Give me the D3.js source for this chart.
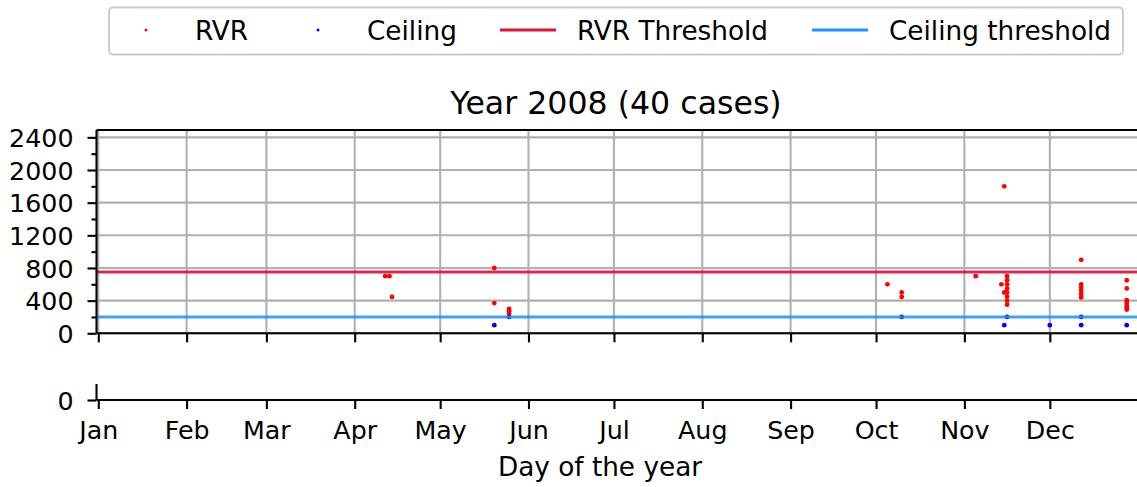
<!DOCTYPE html>
<html>
<head>
<meta charset="utf-8">
<script src="https://cdn.jsdelivr.net/npm/d3@7"></script>
<style>
  body { margin: 0; background: #fff; }
  svg text { font-family: "DejaVu Sans", sans-serif; fill: #000; }
</style>
</head>
<body>
<svg id="chart" width="1137" height="487"></svg>
<script>
// month ticks (day of year, non-leap)
var monthDays = [1, 32, 60, 91, 121, 152, 182, 213, 244, 274, 305, 335];
var monthNames = ["Jan","Feb","Mar","Apr","May","Jun","Jul","Aug","Sep","Oct","Nov","Dec"];
var yTicks = [0, 400, 800, 1200, 1600, 2000, 2400];

// RVR observations (day, metres)
var rvrDay = [101.7, 103.2, 104.1, 140, 140, 145.2, 145.2, 145.2,
  278, 283, 283, 309, 318, 319, 319,
  320, 320, 320, 320, 320, 320, 320, 320,
  346, 346, 346, 346, 346, 346,
  362, 362, 362, 362, 362, 362, 362];
var rvrVal = [700, 700, 445, 800, 370, 300, 270, 240,
  600, 500, 445, 700, 600, 1800, 500,
  700, 650, 600, 550, 500, 450, 400, 350,
  900, 600, 560, 520, 480, 440,
  650, 550, 405, 375, 345, 315, 290];

// ceiling observations (day, feet)
var ceilDay = [140, 145.2, 283, 319, 320, 335, 346, 346, 362];
var ceilVal = [100, 200, 200, 100, 200, 100, 100, 200, 100];

var rvrThreshold = 750;
var ceilThreshold = 200;

var svg = d3.select("#chart");

var x = d3.scaleLinear().domain([0.37, 367]).range([96.5, 1141]);
var y = d3.scaleLinear().domain([0, 2490]).range([333.3, 130]);

var tickFont = "25.3px", labelFont = "26.3px";

// grid
var grid = svg.append("g");
grid.selectAll("line.v").data(monthDays).enter().append("line")
  .attr("x1", function(d) { return x(d); }).attr("x2", function(d) { return x(d); })
  .attr("y1", 130).attr("y2", 333.3)
  .attr("stroke", "#b0b0b0").attr("stroke-width", 2.1);
grid.selectAll("line.h").data(yTicks).enter().append("line")
  .attr("x1", 96.5).attr("x2", 1141)
  .attr("y1", function(d) { return y(d); }).attr("y2", function(d) { return y(d); })
  .attr("stroke", "#b0b0b0").attr("stroke-width", 2.1);

// points
svg.append("g").selectAll("circle").data(d3.range(rvrDay.length)).enter().append("circle")
  .attr("cx", function(i) { return x(rvrDay[i]); })
  .attr("cy", function(i) { return y(rvrVal[i]); })
  .attr("r", 2.4).attr("fill", "#ff0000");
svg.append("g").selectAll("circle").data(d3.range(ceilDay.length)).enter().append("circle")
  .attr("cx", function(i) { return x(ceilDay[i]); })
  .attr("cy", function(i) { return y(ceilVal[i]); })
  .attr("r", 2.4).attr("fill", "#0000ff");

// threshold lines, drawn over the points
svg.append("line").attr("x1", 96.5).attr("x2", 1141)
  .attr("y1", y(rvrThreshold)).attr("y2", y(rvrThreshold))
  .attr("stroke", "#dc143c").attr("stroke-width", 3).attr("opacity", 0.9);
svg.append("line").attr("x1", 96.5).attr("x2", 1141)
  .attr("y1", y(ceilThreshold)).attr("y2", y(ceilThreshold))
  .attr("stroke", "#1e90ff").attr("stroke-width", 3).attr("opacity", 0.85);

// axes
function styleAxis(g) {
  g.selectAll(".domain").remove();
  g.selectAll(".tick line").attr("stroke", "#000").attr("stroke-width", 2.1);
  g.selectAll(".tick text").attr("font-size", tickFont)
    .style("font-family", "'DejaVu Sans', sans-serif");
}

var yAxis = svg.append("g").attr("transform", "translate(96.5,0)")
  .call(d3.axisLeft(y).tickValues(yTicks).tickFormat(d3.format("d")).tickSize(9).tickPadding(14));
styleAxis(yAxis);
yAxis.selectAll(".tick text").attr("dy", "0.36em");
var yMinor = svg.append("g").attr("transform", "translate(96.5,0)")
  .call(d3.axisLeft(y).tickValues(d3.range(200, 2490, 400)).tickFormat("").tickSize(5));
styleAxis(yMinor);

var xTop = svg.append("g").attr("transform", "translate(0,333.3)")
  .call(d3.axisBottom(x).tickValues(monthDays).tickFormat("").tickSize(9));
styleAxis(xTop);

// spines of top panel
svg.append("line").attr("x1", 96.5).attr("x2", 1141).attr("y1", 130).attr("y2", 130)
  .attr("stroke", "#000").attr("stroke-width", 2.1);
svg.append("line").attr("x1", 96.5).attr("x2", 1141).attr("y1", 333.3).attr("y2", 333.3)
  .attr("stroke", "#000").attr("stroke-width", 2.1);
svg.append("line").attr("x1", 96.5).attr("x2", 96.5).attr("y1", 130).attr("y2", 333.3)
  .attr("stroke", "#000").attr("stroke-width", 2.1);

// bottom panel
var y2 = d3.scaleLinear().domain([0, 1]).range([400, 384]);
var yAxis2 = svg.append("g").attr("transform", "translate(96.5,0)")
  .call(d3.axisLeft(y2).tickValues([0]).tickFormat(d3.format("d")).tickSize(9).tickPadding(14));
styleAxis(yAxis2);
yAxis2.selectAll(".tick text").attr("dy", "0.36em");
svg.append("line").attr("x1", 96.5).attr("x2", 96.5).attr("y1", 384).attr("y2", 400)
  .attr("stroke", "#000").attr("stroke-width", 2.1);
svg.append("line").attr("x1", 96.5).attr("x2", 1141).attr("y1", 400).attr("y2", 400)
  .attr("stroke", "#000").attr("stroke-width", 2.1);
var xBottom = svg.append("g").attr("transform", "translate(0,400)")
  .call(d3.axisBottom(x).tickValues(monthDays)
    .tickFormat(function(d, i) { return monthNames[i]; }).tickSize(9).tickPadding(8));
styleAxis(xBottom);
xBottom.selectAll(".tick text").attr("dy", "0.85em");

// titles
svg.append("text").attr("x", 616).attr("y", 114).attr("text-anchor", "middle")
  .attr("font-size", "31.6px").text("Year 2008 (40 cases)");
svg.append("text").attr("x", 600).attr("y", 476).attr("text-anchor", "middle")
  .attr("font-size", labelFont).text("Day of the year");

// legend
var leg = svg.append("g");
leg.append("rect").attr("x", 109).attr("y", 7.5).attr("width", 1014).attr("height", 47)
  .attr("rx", 4).attr("fill", "#fff").attr("stroke", "#cccccc").attr("stroke-width", 2);
leg.append("circle").attr("cx", 146).attr("cy", 30).attr("r", 1.5).attr("fill", "#ff0000");
leg.append("circle").attr("cx", 318).attr("cy", 30).attr("r", 1.5).attr("fill", "#0000ff");
leg.append("line").attr("x1", 500).attr("x2", 556).attr("y1", 30).attr("y2", 30)
  .attr("stroke", "#dc143c").attr("stroke-width", 3);
leg.append("line").attr("x1", 812).attr("x2", 868).attr("y1", 30).attr("y2", 30)
  .attr("stroke", "#1e90ff").attr("stroke-width", 3);
var legText = [["RVR", 195], ["Ceiling", 367], ["RVR Threshold", 577], ["Ceiling threshold", 889]];
leg.selectAll("text.l").data(legText).enter().append("text")
  .attr("x", function(d) { return d[1]; }).attr("y", 39.5)
  .attr("font-size", labelFont).text(function(d) { return d[0]; });
</script>
</body>
</html>
